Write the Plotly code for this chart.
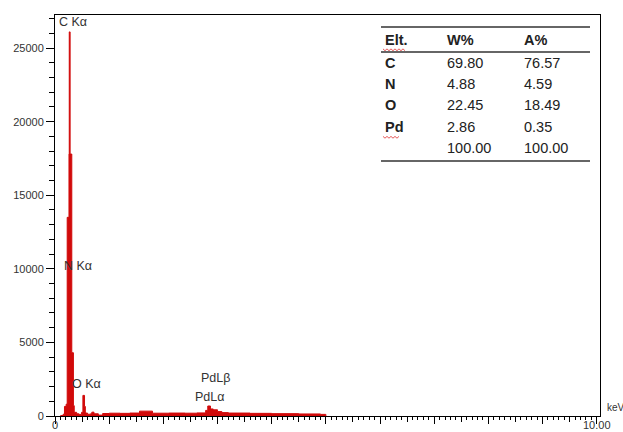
import plotly.graph_objects as go

# EDS spectrum (step channels): energy in keV (channel start) and counts
energy_kev = [0.10, 0.15, 0.175, 0.205, 0.225, 0.258, 0.263, 0.279, 0.31, 0.34,
              0.355, 0.40, 0.44, 0.49, 0.515, 0.545, 0.56, 0.60, 0.66, 0.68,
              0.72, 0.80, 0.88, 1.00, 1.20, 1.38, 1.56, 1.80, 2.10, 2.40,
              2.62, 2.78, 2.82, 2.87, 2.92, 3.00, 3.08, 3.20, 3.60, 4.00,
              4.50, 4.90, 5.00]
counts = [30, 120, 650, 800, 13500, 17800, 26100, 17800, 4300, 700,
          250, 150, 110, 250, 1400, 650, 200, 120, 160, 260,
          150, 60, 170, 190, 180, 200, 330, 190, 200, 190,
          210, 380, 680, 480, 420, 300, 230, 200, 180, 160,
          140, 110, 0]

# Peak labels
peak_labels = ["C K\u03b1", "N K\u03b1", "O K\u03b1", "PdL\u03b2", "PdL\u03b1"]
peak_label_x = [0.03, 0.12, 0.27, 2.65, 2.54]
peak_label_y = [26750, 10200, 2170, 2580, 1290]

# Energy axis end labels
x_label_vals = [0, 10]
x_label_text = ["0", "10.00"]

# Quantification table
tbl_header = ["Elt.", "W%", "A%"]
tbl_elements = ["C", "N", "O", "Pd", ""]
tbl_wt = ["69.80", "4.88", "22.45", "2.86", "100.00"]
tbl_at = ["76.57", "4.59", "18.49", "0.35", "100.00"]

W, H = 623, 432
ML, MR, MT, MB = 55, 23, 15, 16
PW, PH = W - ML - MR, H - MT - MB


def px(xp):
    return (xp - ML) / PW


def py(yp):
    return (H - MB - yp) / PH


RED = "#d10a0a"
TXT = "#333333"
FONT = "Liberation Sans, Arial, sans-serif"

fig = go.Figure()
fig.add_trace(go.Scatter(
    x=energy_kev, y=counts, mode="lines", line_shape="hv",
    line=dict(color=RED, width=1), fill="tozeroy", fillcolor=RED,
    hoverinfo="skip", showlegend=False,
))
# helper trace so the half-keV tick axis is drawn
fig.add_trace(go.Scatter(x=[0], y=[0], xaxis="x2", mode="markers",
                         marker=dict(opacity=0), hoverinfo="skip",
                         showlegend=False))

fig.update_layout(
    width=W, height=H,
    margin=dict(l=ML, r=MR, t=MT, b=MB, autoexpand=False),
    paper_bgcolor="white", plot_bgcolor="white",
    font=dict(family=FONT, color=TXT),
    xaxis=dict(
        range=[0, 10.06], tickmode="linear", tick0=0, dtick=1,
        showticklabels=False,
        ticks="outside", ticklen=7, tickcolor="black", tickwidth=1,
        showline=True, linecolor="black", linewidth=1, mirror=True,
        showgrid=False, zeroline=False, automargin=False,
        minor=dict(dtick=0.1, ticks="outside", ticklen=3,
                   tickcolor="black", showgrid=False),
    ),
    xaxis2=dict(
        overlaying="x", matches="x", side="bottom",
        tickmode="linear", tick0=0, dtick=0.5,
        ticks="outside", ticklen=5, tickcolor="black",
        showticklabels=False, showline=False, showgrid=False,
        zeroline=False, automargin=False,
    ),
    yaxis=dict(
        range=[0, 27250], tickmode="linear", tick0=0, dtick=5000,
        tickformat="d",
        ticks="outside", ticklen=8, tickcolor="black",
        showline=True, linecolor="black", linewidth=1, mirror=True,
        showgrid=False, zeroline=False, automargin=False,
        tickfont=dict(size=11, color=TXT, family=FONT),
        minor=dict(dtick=1000, ticks="outside", ticklen=5,
                   tickcolor="black", showgrid=False),
    ),
)

# Energy axis end labels, tucked right under the axis
for xv, t in zip(x_label_vals, x_label_text):
    fig.add_annotation(x=xv, y=py(425), xref="x", yref="paper", text=t,
                       showarrow=False, xanchor="center", yanchor="middle",
                       font=dict(size=11, color=TXT, family=FONT))

# Peak annotations
for t, xv, yv in zip(peak_labels, peak_label_x, peak_label_y):
    fig.add_annotation(x=xv, y=yv, xref="x", yref="y", text=t,
                       showarrow=False, xanchor="left", yanchor="middle",
                       font=dict(size=12.5, color=TXT, family=FONT))

# Axis unit
fig.add_annotation(x=px(605), y=py(407), xref="paper", yref="paper",
                   text="keV", showarrow=False, xanchor="left",
                   yanchor="middle", font=dict(size=10, color=TXT, family=FONT))

# Table
col_x = [383, 445, 522]
row_y = [63, 84, 105, 127, 148]
tfont = dict(size=14.5, color="#222222", family=FONT)
for cx, h in zip(col_x, tbl_header):
    fig.add_annotation(x=px(cx), y=py(40), xref="paper", yref="paper",
                       text="<b>%s</b>" % h, showarrow=False, xanchor="left",
                       yanchor="middle", font=tfont)
for ry, el, wv, av in zip(row_y, tbl_elements, tbl_wt, tbl_at):
    for cx, txt in zip(col_x, ["<b>%s</b>" % el if el else "", wv, av]):
        if txt:
            fig.add_annotation(x=px(cx), y=py(ry), xref="paper", yref="paper",
                               text=txt, showarrow=False, xanchor="left",
                               yanchor="middle", font=tfont)
for ly, lw in [(27, 1.5), (52, 1.5), (161, 1.5)]:
    fig.add_shape(type="line", xref="paper", yref="paper",
                  x0=px(381), x1=px(590), y0=py(ly), y1=py(ly),
                  line=dict(color="#333333", width=lw))


# Wavy spell-check underline beneath "Elt." and "Pd"
def squiggle(x0, x1, yb):
    pts = []
    k = 0
    xx = x0
    while xx <= x1:
        pts.append((px(xx), py(yb + (1.2 if k % 2 else -0.6))))
        xx += 2
        k += 1
    return "M " + " L ".join("%.5f,%.5f" % p for p in pts)


for x0, x1, yb in [(383, 405, 49.5), (383, 400, 137)]:
    fig.add_shape(type="path", xref="paper", yref="paper",
                  path=squiggle(x0, x1, yb),
                  line=dict(color="#e03030", width=0.8))

fig.write_html("out.html")
